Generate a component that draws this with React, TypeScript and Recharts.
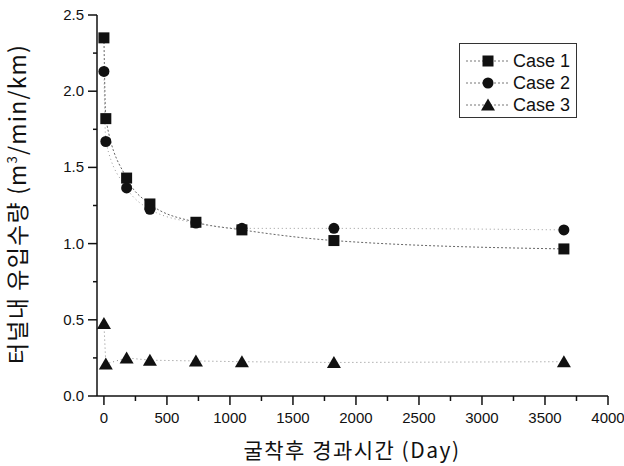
import React from 'react';
import { ComposedChart, Line, XAxis, YAxis, Legend, Label } from 'recharts';

// elapsed days after excavation
const days = [0, 15, 180, 365, 730, 1095, 1825, 3650];
const case1 = [2.35, 1.82, 1.43, 1.26, 1.14, 1.09, 1.02, 0.965];
const case2 = [2.13, 1.67, 1.365, 1.225, 1.135, 1.1, 1.1, 1.09];
const case3 = [0.475, 0.21, 0.25, 0.235, 0.23, 0.225, 0.22, 0.225];

const xMinor = [0, 250, 500, 750, 1000, 1250, 1500, 1750, 2000, 2250, 2500, 2750, 3000, 3250, 3500, 3750, 4000];
const yMinor = [0, 0.25, 0.5, 0.75, 1.0, 1.25, 1.5, 1.75, 2.0, 2.25, 2.5];

const seriesNames = ['Case 1', 'Case 2', 'Case 3'];

const rows = days.map((d, i) => ({ day: d, c1: case1[i], c2: case2[i], c3: case3[i] }));

const W = 624;
const H = 466;
const FONT = '"Liberation Sans", Arial, sans-serif';
const KFONT = '"Noto Sans CJK KR", "Liberation Sans", sans-serif';
const INK = '#111';

const Square = (p: any) => (
  <rect key={p.key ?? `s${p.index}`} x={p.cx - 5.5} y={p.cy - 5.5} width={11} height={11} fill={INK} />
);
const Circle = (p: any) => (
  <circle key={p.key ?? `c${p.index}`} cx={p.cx} cy={p.cy} r={5.5} fill={INK} />
);
const Triangle = (p: any) => (
  <path
    key={p.key ?? `t${p.index}`}
    d={`M${p.cx},${p.cy - 6.5} L${p.cx + 7},${p.cy + 5.5} L${p.cx - 7},${p.cy + 5.5} Z`}
    fill={INK}
  />
);

const BottomTick = ({ x, y, payload }: any) => {
  const major = payload.value % 500 === 0;
  return (
    <g>
      <line x1={x} x2={x} y1={y} y2={y + (major ? 9 : 5)} stroke={INK} strokeWidth={1.5} />
      {major && (
        <text x={x} y={y + 27} textAnchor="middle" fontSize={15} fontFamily={FONT} fill={INK}>
          {payload.value}
        </text>
      )}
    </g>
  );
};

const TopTick = ({ x, y, payload }: any) => {
  const major = payload.value % 500 === 0;
  return <line x1={x} x2={x} y1={y} y2={y + (major ? 8 : 6)} stroke={INK} strokeWidth={1.5} />;
};

const LeftTick = ({ x, y, payload }: any) => {
  const v = payload.value;
  const major = Math.abs(v * 2 - Math.round(v * 2)) < 1e-6;
  return (
    <g>
      <line x1={x} x2={x - (major ? 9 : 4)} y1={y} y2={y} stroke={INK} strokeWidth={1.5} />
      {major && (
        <text x={x - 13} y={y + 5} textAnchor="end" fontSize={15} fontFamily={FONT} fill={INK}>
          {v.toFixed(1)}
        </text>
      )}
    </g>
  );
};

const RightTick = ({ x, y, payload }: any) => {
  const v = payload.value;
  const major = Math.abs(v * 2 - Math.round(v * 2)) < 1e-6;
  return <line x1={x} x2={x - (major ? 8 : 5)} y1={y} y2={y} stroke={INK} strokeWidth={1.5} />;
};

const YTitle = () => (
  <text
    x={26}
    y={204}
    transform="rotate(-90 26 204)"
    textAnchor="middle"
    fontSize={23}
    letterSpacing={1.2}
    fontFamily={KFONT}
    fill={INK}
  >
    터널내 유입수량 (m<tspan dy={-9} fontSize={13}>3</tspan>
    <tspan dy={9}>/min/km)</tspan>
  </text>
);

const XTitle = () => (
  <text
    x={352}
    y={458}
    textAnchor="middle"
    fontSize={21}
    letterSpacing={1.5}
    fontFamily={KFONT}
    fill={INK}
  >
    굴착후 경과시간 (Day)
  </text>
);

const markers = [Square, Circle, Triangle];

const LegendBox = () => (
  <div
    style={{
      position: 'absolute',
      left: 459,
      top: 43,
      width: 116,
      height: 73,
      border: '1px solid #333',
      background: '#fff',
      fontFamily: FONT,
      fontSize: 18,
      color: INK,
    }}
  >
    {seriesNames.map((name, i) => {
      const M = markers[i];
      return (
        <div key={name} style={{ height: 22, marginTop: i === 0 ? 6 : 0, display: 'flex', alignItems: 'center' }}>
          <svg width={53} height={22}>
            <line x1={6} x2={50} y1={11} y2={11} stroke="#777" strokeDasharray="2 2" />
            <M cx={28} cy={11} index={i} />
          </svg>
          <span>{name}</span>
        </div>
      );
    })}
  </div>
);

export default function App() {
  return (
    <div style={{ position: 'absolute', left: 0, top: 0, width: W, height: H, background: '#fff' }}>
      <ComposedChart width={W} height={H} data={rows} margin={{ top: 15, right: 16, bottom: 0, left: 0 }}>
        <XAxis
          xAxisId="b"
          dataKey="day"
          type="number"
          domain={[-55, 4000]}
          ticks={xMinor}
          interval={0}
          height={70}
          tickSize={0}
          tickMargin={0}
          tickLine={false}
          tick={<BottomTick />}
          axisLine={{ stroke: INK, strokeWidth: 1.5 }}
          allowDataOverflow
        >
          <Label content={<XTitle />} />
        </XAxis>
        <XAxis
          xAxisId="t"
          orientation="top"
          dataKey="day"
          type="number"
          domain={[-55, 4000]}
          ticks={xMinor}
          interval={0}
          height={0}
          tickSize={0}
          tickMargin={0}
          tickLine={false}
          tick={<TopTick />}
          axisLine={{ stroke: INK, strokeWidth: 1.5 }}
          allowDataOverflow
        />
        <YAxis
          yAxisId="l"
          type="number"
          domain={[0, 2.5]}
          ticks={yMinor}
          interval={0}
          width={97}
          tickSize={0}
          tickMargin={0}
          tickLine={false}
          tick={<LeftTick />}
          axisLine={{ stroke: INK, strokeWidth: 1.5 }}
          allowDataOverflow
        >
          <Label content={<YTitle />} />
        </YAxis>
        <YAxis
          yAxisId="r"
          orientation="right"
          type="number"
          domain={[0, 2.5]}
          ticks={yMinor}
          interval={0}
          width={0}
          tickSize={0}
          tickMargin={0}
          tickLine={false}
          tick={<RightTick />}
          axisLine={{ stroke: INK, strokeWidth: 1.5 }}
          allowDataOverflow
        />
        <Legend
          layout="vertical"
          align="center"
          verticalAlign="middle"
          content={<LegendBox />}
          wrapperStyle={{ position: 'absolute', left: 0, top: 0, width: 0, height: 0 }}
        />
        <Line
          xAxisId="b"
          yAxisId="l"
          dataKey="c1"
          name="Case 1"
          type="monotone"
          stroke="#666"
          strokeWidth={1}
          strokeDasharray="2 2"
          dot={Square}
          activeDot={false}
          isAnimationActive={false}
        />
        <Line
          xAxisId="b"
          yAxisId="l"
          dataKey="c2"
          name="Case 2"
          type="monotone"
          stroke="#999"
          strokeWidth={1}
          strokeDasharray="1 3"
          dot={Circle}
          activeDot={false}
          isAnimationActive={false}
        />
        <Line
          xAxisId="b"
          yAxisId="l"
          dataKey="c3"
          name="Case 3"
          type="linear"
          stroke="#888"
          strokeWidth={1}
          strokeDasharray="1 3"
          dot={Triangle}
          activeDot={false}
          isAnimationActive={false}
        />
      </ComposedChart>
    </div>
  );
}
